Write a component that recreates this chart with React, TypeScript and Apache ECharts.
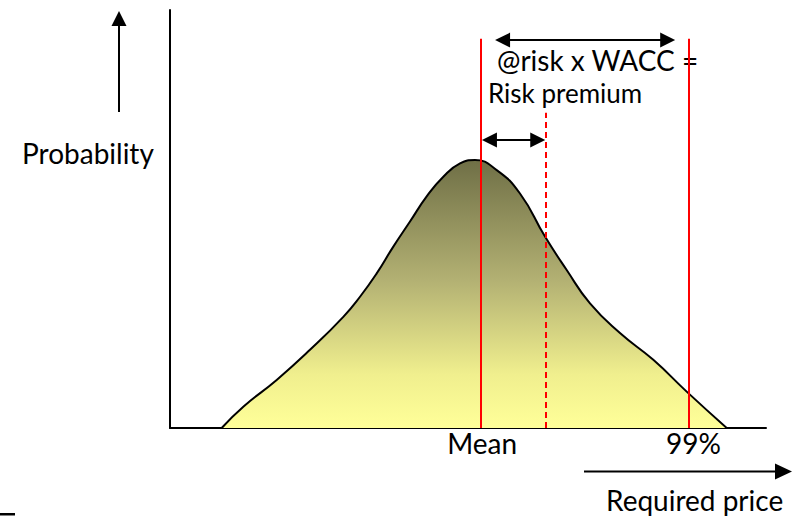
import React, { useEffect, useRef } from "react";
import * as echarts from "echarts";

// Distribution curve (price units 0..100, probability units 0..100)
const priceX = [8.67, 12.3, 17.9, 23.49, 29.08, 31.88, 34.68, 37.47, 40.27, 43.07, 45.86, 48.66, 51.17, 54.82, 58.72, 62.92, 66.56, 70.47, 75.5, 81.09, 86.69, 93.41];
const probY = [0, 5.1, 11.5, 18.7, 26.6, 31.4, 37.0, 43.4, 49.4, 55.4, 60.1, 63.3, 64.1, 61.7, 56.1, 45.8, 37.8, 29.8, 22.7, 16.3, 8.7, 0];

// Vertical marker lines
const markerLabels = ["Mean", "", "99%"];
const markerX = [52.2, 63.0, 87.0];
const markerTop = [93.1, 75.4, 93.1];
const markerDashed = [false, true, false];

// Double-headed arrows
const spanArrowX = [55.8, 83.5];
const spanArrowY = 92.8;
const premiumArrowX = [53.6, 61.7];
const premiumArrowY = 68.9;

// Texts
const yTitle = "Probability";
const xTitle = "Required price";
const spanText = "@risk x WACC =";
const premiumText = "Risk premium";

const FONT = "Lato";

export default function App() {
  const ref = useRef<HTMLDivElement>(null);
  useEffect(() => {
    if (!ref.current) return;
    const chart = echarts.init(ref.current, null, { renderer: "svg" });
    const data = priceX.map((x, i) => [x, probY[i]]);
    const arrowEnd = (x: number, y: number) => ({
      coord: [x, y],
      symbol: "triangle",
      symbolSize: [15, 15],
    });
    const markData: any[] = markerX.map((x, i) => [
      {
        coord: [x, 0],
        symbol: "none",
        lineStyle: { color: "#ff0000", width: 2, type: markerDashed[i] ? [6, 4] : "solid" },
        label: {
          show: markerLabels[i] !== "",
          formatter: markerLabels[i],
          position: "start",
          distance: 1,
          padding: i === 2 ? [0, 0, 0, 10] : [0, 0, 0, 2],
          color: "#000",
          fontFamily: FONT,
          fontSize: 28,
        },
      },
      { coord: [x, markerTop[i]], symbol: "none" },
    ]);
    markData.push([
      { ...arrowEnd(spanArrowX[0], spanArrowY), lineStyle: { color: "#000", width: 2, type: "solid" }, label: { show: false } },
      arrowEnd(spanArrowX[1], spanArrowY),
    ]);
    markData.push([
      { ...arrowEnd(premiumArrowX[0], premiumArrowY), lineStyle: { color: "#000", width: 2, type: "solid" }, label: { show: false } },
      arrowEnd(premiumArrowX[1], premiumArrowY),
    ]);

    chart.setOption({
      animation: false,
      backgroundColor: "#ffffff",
      grid: { left: 170, right: 42, top: 10, bottom: 89 },
      xAxis: {
        type: "value",
        min: 0,
        max: 100,
        axisLine: { show: true, onZero: false, lineStyle: { color: "#000", width: 2 } },
        axisTick: { show: false },
        axisLabel: { show: false },
        splitLine: { show: false },
      },
      yAxis: {
        type: "value",
        min: 0,
        max: 100,
        axisLine: { show: true, onZero: false, lineStyle: { color: "#000", width: 2 } },
        axisTick: { show: false },
        axisLabel: { show: false },
        splitLine: { show: false },
      },
      series: [
        {
          type: "line",
          data,
          smooth: 0.5,
          showSymbol: false,
          symbol: "none",
          lineStyle: { color: "#000", width: 2 },
          areaStyle: {
            opacity: 1,
            color: new echarts.graphic.LinearGradient(0, 0, 0, 1, [
              { offset: 0, color: "#6f6f46" },
              { offset: 0.45, color: "#b3b173" },
              { offset: 0.8, color: "#f0ef8e" },
              { offset: 1, color: "#ffff99" },
            ]),
          },
          markLine: {
            silent: true,
            animation: false,
            symbol: "none",
            data: markData,
          },
        },
      ],
      graphic: [
        { type: "text", x: 22, y: 139, style: { text: yTitle, font: `28px ${FONT}`, fill: "#000" } },
        { type: "text", x: 606, y: 486, style: { text: xTitle, font: `28px ${FONT}`, fill: "#000" } },
        { type: "text", x: 497, y: 46, style: { text: spanText, font: `28px ${FONT}`, fill: "#000" } },
        { type: "text", x: 488, y: 80, style: { text: premiumText, font: `26px ${FONT}`, fill: "#000" } },
        { type: "line", shape: { x1: 119, y1: 112, x2: 119, y2: 24 }, style: { stroke: "#000", lineWidth: 2 } },
        { type: "polygon", shape: { points: [[119, 11], [111.5, 26], [126.5, 26]] }, style: { fill: "#000" } },
        { type: "line", shape: { x1: 584, y1: 471.5, x2: 778, y2: 471.5 }, style: { stroke: "#000", lineWidth: 2 } },
        { type: "polygon", shape: { points: [[792, 471.5], [775, 463.5], [775, 479.5]] }, style: { fill: "#000" } },
        { type: "rect", shape: { x: 0, y: 513, width: 15, height: 2.5 }, style: { fill: "#000" } },
      ],
    });
    return () => chart.dispose();
  }, []);
  return (
    <div
      ref={ref}
      style={{ position: "fixed", left: 0, top: 0, width: 808, height: 517, background: "#fff" }}
    />
  );
}
